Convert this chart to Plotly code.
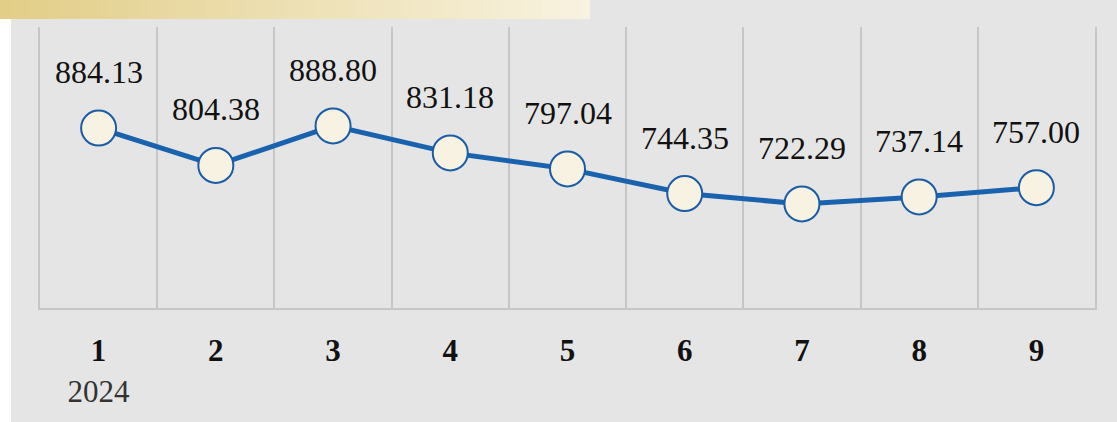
import plotly.graph_objects as go

# monthly values, 2024
months = ["1", "2", "3", "4", "5", "6", "7", "8", "9"]
year_label = "2024"
values = [884.13, 804.38, 888.80, 831.18, 797.04, 744.35, 722.29, 737.14, 757.00]

W, H = 1117, 422
ML, MR, MT, MB = 40, 22, 27, 114
PW, PH = W - ML - MR, H - MT - MB


def px_x(p):
    return (p - ML) / PW


def px_y(p):
    return (H - MB - p) / PH


serif = "Liberation Serif"

fig = go.Figure()

fig.add_trace(go.Scatter(
    x=months,
    y=values,
    mode="lines+markers",
    line=dict(color="#1b62ae", width=5),
    marker=dict(size=35, color="#f7f2e1", line=dict(color="#1a5ca5", width=2)),
    hoverinfo="skip",
    cliponaxis=False,
))

# value labels above the points (x given as category index)
for i, v in enumerate(values):
    fig.add_annotation(x=i, y=v, text=f"{v:.2f}", showarrow=False, yshift=56,
                       font=dict(family=serif, size=32, color="#111111"))

ticktext = [f"<b>{m}</b>" for m in months]
ticktext[0] = f"<b>{months[0]}</b><br><span style='color:#333333'>{year_label}</span>"

shapes = [
    # grey card behind the chart
    dict(type="rect", xref="paper", yref="paper", layer="below",
         x0=px_x(11), x1=px_x(W + 5), y0=px_y(H + 5), y1=px_y(-5),
         fillcolor="#e5e5e5", line=dict(width=0)),
]

# gold header band, faded left to right
c0, c1 = (226, 206, 135), (248, 242, 224)
n = 60
bar_l, bar_r, bar_h = 0, 590, 19
for i in range(n):
    t = i / (n - 1)
    col = tuple(round(c0[k] + (c1[k] - c0[k]) * t) for k in range(3))
    xa = bar_l + (bar_r - bar_l) * i / n
    xb = bar_l + (bar_r - bar_l) * (i + 1) / n + 0.6
    shapes.append(dict(type="rect", xref="paper", yref="paper", layer="below",
                       x0=px_x(xa), x1=px_x(min(xb, bar_r)), y0=px_y(bar_h), y1=px_y(-2),
                       fillcolor="rgb(%d,%d,%d)" % col, line=dict(width=0)))

fig.update_layout(
    width=W, height=H,
    margin=dict(l=ML, r=MR, t=MT, b=MB, autoexpand=False),
    paper_bgcolor="white",
    plot_bgcolor="rgba(0,0,0,0)",
    showlegend=False,
    shapes=shapes,
    xaxis=dict(
        type="category",
        range=[-0.5, 8.5],
        tickson="boundaries",
        automargin=False,
        showgrid=True, gridcolor="#c6c6c6", gridwidth=2,
        showline=True, linecolor="#c6c6c6", linewidth=2,
        ticks="", ticklabelstandoff=14,
        tickmode="array", tickvals=months, ticktext=ticktext,
        tickfont=dict(family=serif, size=31, color="#111111"),
        zeroline=False,
    ),
    yaxis=dict(
        range=[500, 1100],
        automargin=False,
        showgrid=False, showticklabels=False, zeroline=False,
        showline=True, mirror=True, linecolor="#c6c6c6", linewidth=2,
    ),
)

fig.write_html("out.html", config={"displayModeBar": False},
               post_script="document.body.style.margin='0';")
